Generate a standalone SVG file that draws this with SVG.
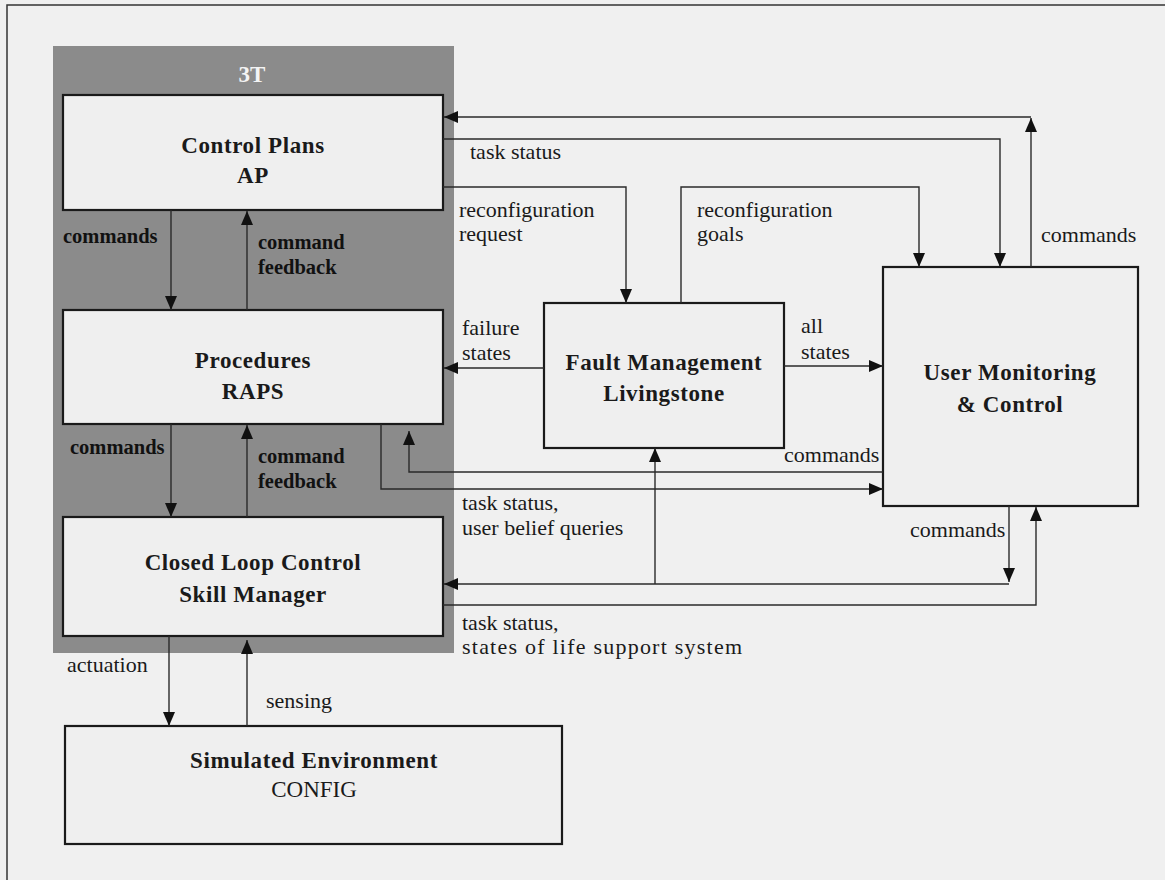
<svg xmlns="http://www.w3.org/2000/svg" width="1165" height="880" viewBox="0 0 1165 880">
<defs>
<style>
.bg{fill:#f0f0f0}
.frame{stroke:#333;stroke-width:1.5;fill:none}
.panel{fill:#8b8b8b}
.box{fill:#efefef;stroke:#1a1a1a;stroke-width:2.2}
.nl{font-family:"Liberation Serif",serif;font-weight:bold;font-size:23px;letter-spacing:0.6px;fill:#1a1a1a;text-anchor:middle}
.nr{font-family:"Liberation Serif",serif;font-size:23px;fill:#1a1a1a;text-anchor:middle}
.cl{font-family:"Liberation Serif",serif;font-size:22px;fill:#1a1a1a}
.il{font-family:"Liberation Serif",serif;font-weight:bold;font-size:20.5px;fill:#111}
.t3{font-family:"Liberation Serif",serif;font-weight:bold;font-size:23px;fill:#f4f4f4;text-anchor:middle}
.ca{fill:none;stroke:#2a2a2a;stroke-width:1.4;marker-end:url(#ah)}
</style>
<marker id="ah" markerUnits="userSpaceOnUse" markerWidth="14" markerHeight="12" refX="14" refY="6" orient="auto">
<path d="M0,0 L14,6 L0,12 z" fill="#111"/>
</marker>
</defs>
<rect class="bg" x="0" y="0" width="1165" height="880"/>
<path class="frame" d="M7,880 L7,5 L1165,5"/>
<rect class="panel" x="53" y="46" width="401" height="607"/>
<text class="t3" x="252" y="82">3T</text>

<g id="control-plans">
<rect class="box" x="63" y="95" width="380" height="115"/>
<text class="nl" x="253" y="153">Control Plans</text>
<text class="nl" x="253" y="183">AP</text>
</g>
<g id="procedures">
<rect class="box" x="63" y="310" width="380" height="114"/>
<text class="nl" x="253" y="368">Procedures</text>
<text class="nl" x="253" y="399">RAPS</text>
</g>
<g id="closed-loop">
<rect class="box" x="63" y="517" width="380" height="119"/>
<text class="nl" x="253" y="570">Closed Loop Control</text>
<text class="nl" x="253" y="602">Skill Manager</text>
</g>
<g id="simulated-environment">
<rect class="box" x="65" y="726" width="497" height="118"/>
<text class="nl" x="314" y="768">Simulated Environment</text>
<text class="nr" x="314" y="797">CONFIG</text>
</g>
<g id="fault-management">
<rect class="box" x="544" y="303" width="240" height="145"/>
<text class="nl" x="664" y="370">Fault Management</text>
<text class="nl" x="664" y="401">Livingstone</text>
</g>
<g id="user-monitoring">
<rect class="box" x="883" y="267" width="255" height="239"/>
<text class="nl" x="1010" y="380">User Monitoring</text>
<text class="nl" x="1010" y="412">&amp; Control</text>
</g>

<g id="connectors">
<path class="ca" d="M1031,267 L1031,118"/>
<path class="ca" d="M1031,117 L444,117"/>
<path class="ca" d="M443,139 L1000,139 L1000,267"/>
<path class="ca" d="M443,187 L626,187 L626,303"/>
<path class="ca" d="M681,303 L681,187 L919,187 L919,267"/>
<path class="ca" d="M544,368 L444,368"/>
<path class="ca" d="M784,366 L883,366"/>
<path class="ca" d="M883,472 L409,472 L409,431"/>
<path class="ca" d="M381,424 L381,489 L883,489"/>
<path class="ca" d="M655,584 L655,448"/>
<path class="ca" d="M1009,506 L1009,582"/>
<path class="ca" d="M1009,584 L444,584"/>
<path class="ca" d="M443,605 L1036,605 L1036,507"/>
<path class="ca" d="M171,210 L171,310"/>
<path class="ca" d="M247,310 L247,211"/>
<path class="ca" d="M171,424 L171,517"/>
<path class="ca" d="M247,517 L247,425"/>
<path class="ca" d="M169,636 L169,726"/>
<path class="ca" d="M247,726 L247,640"/>
</g>

<g id="labels">
<text class="il" x="63" y="243">commands</text>
<text class="il" x="258" y="249">command</text>
<text class="il" x="258" y="274">feedback</text>
<text class="il" x="70" y="454">commands</text>
<text class="il" x="258" y="463">command</text>
<text class="il" x="258" y="488">feedback</text>
<text class="cl" x="67" y="672">actuation</text>
<text class="cl" x="266" y="708">sensing</text>
<text class="cl" x="470" y="159">task status</text>
<text class="cl" x="459" y="217">reconfiguration</text>
<text class="cl" x="459" y="241">request</text>
<text class="cl" x="697" y="217">reconfiguration</text>
<text class="cl" x="697" y="241">goals</text>
<text class="cl" x="1041" y="242">commands</text>
<text class="cl" x="462" y="335">failure</text>
<text class="cl" x="462" y="360">states</text>
<text class="cl" x="801" y="333">all</text>
<text class="cl" x="801" y="359">states</text>
<text class="cl" x="784" y="462">commands</text>
<text class="cl" x="462" y="510">task status,</text>
<text class="cl" x="462" y="535">user belief queries</text>
<text class="cl" x="910" y="537">commands</text>
<text class="cl" x="462" y="630">task status,</text>
<text class="cl" x="462" y="654" textLength="280" lengthAdjust="spacing">states of life support system</text>
</g>
</svg>
